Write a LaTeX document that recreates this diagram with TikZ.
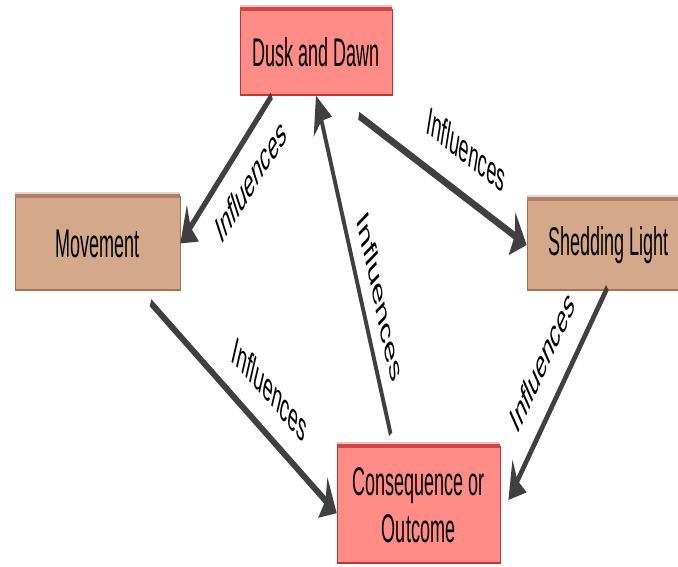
\documentclass[tikz,border=0pt]{standalone}
\usepackage{fontspec}
\setmainfont{Liberation Sans}
\usetikzlibrary{arrows.meta,calc}

\definecolor{salmonfill}{RGB}{255,140,134}
\definecolor{salmonedge}{RGB}{205,48,48}
\definecolor{tanfill}{RGB}{212,168,138}
\definecolor{tanedge}{RGB}{168,112,88}
\definecolor{arrowgray}{RGB}{64,64,64}

\tikzset{
  card/.style={draw, line width=1.4pt, inner sep=0pt, align=center,
    font=\fontsize{40}{47}\selectfont},
  redcard/.style={card, fill=salmonfill, draw=salmonedge},
  tancard/.style={card, fill=tanfill, draw=tanedge},
  link/.style={draw=arrowgray, line width=8pt,
    -{Stealth[length=34pt,width=44pt,inset=6pt]}},
  lbl/.style={font=\fontsize{40}{47}\selectfont, text=black}
}

\begin{document}
\begin{tikzpicture}[x=1pt,y=-1pt]
\useasboundingbox (0,0) rectangle (678,567);
% the whole diagram is drawn wide, then condensed horizontally
\begin{scope}[transform canvas={xscale=0.45}]
  \node[redcard, minimum width=338pt, minimum height=85pt] (dusk) at (702.2,52.5) {Dusk and Dawn};
  \node[tancard, minimum width=366.7pt, minimum height=93pt] (move) at (216.7,243.5) {Movement};
  \node[tancard, minimum width=364.4pt, minimum height=90pt] (shed) at (1353.3,245) {Shedding Light};
  \node[redcard, minimum width=362.2pt, minimum height=116pt] (cons) at (930,505) {Consequence or\\Outcome};

  % darker top edges with a faint shadow above
  \foreach \n/\c in {dusk/salmonedge, move/tanedge, shed/tanedge, cons/salmonedge}{
    \draw[line width=3pt, \c!30] ([yshift=3pt]\n.north west) -- ([yshift=3pt]\n.north east);
    \draw[line width=4pt, \c!90] (\n.north west) -- (\n.north east);
  }

  \draw[link] ($(dusk.south west)!0.21!(dusk.south east)$) -- (move.east)
    node[lbl, pos=0.35, rotate=36.0, anchor=north, inner sep=22pt] (l1) {Influences};
  \draw[link] ($(dusk.south west)!0.78!(dusk.south east)+(0,20)$) -- (shed.west)
    node[lbl, pos=0.60, rotate=-19.7, anchor=south, inner sep=28pt] (l2) {Influences};
  \draw[link] ($(move.south west)!0.82!(move.south east)+(0,12)$) -- ($(cons.north west)!0.57!(cons.south west)$)
    node[lbl, pos=0.595, rotate=-27.2, anchor=south, inner sep=25pt] (l3) {Influences};
  \draw[link] ($(cons.north west)!0.33!(cons.north east)+(0,-12)$) -- (dusk.south)
    node[lbl, pos=0.357, rotate=-64.7, anchor=south, inner sep=21pt] (l4) {Influences};
  \draw[link] ($(shed.south west)!0.49!(shed.south east)+(0,-3)$) -- ($(cons.east)+(18,-5)$)
    node[lbl, pos=0.507, rotate=44.7, anchor=south, inner sep=29pt] (l5) {Influences};
\end{scope}
\end{tikzpicture}
\end{document}
